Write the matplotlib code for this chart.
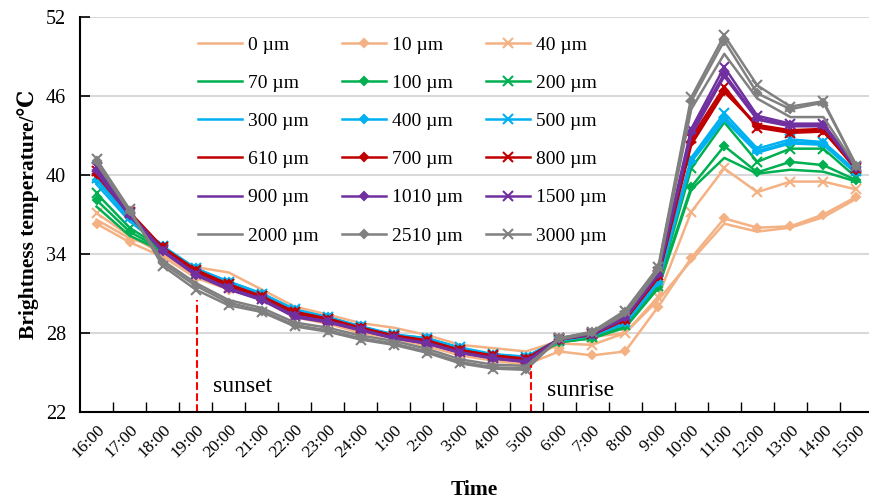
import numpy as np
import matplotlib
matplotlib.use('Agg')
import matplotlib.pyplot as plt

plt.rcParams['font.family'] = ['Liberation Serif', 'DejaVu Serif']

# Horas de medicion
horas = ['16:00', '17:00', '18:00', '19:00', '20:00', '21:00', '22:00', '23:00', '24:00',
         '1:00', '2:00', '3:00', '4:00', '5:00', '6:00', '7:00', '8:00', '9:00',
         '10:00', '11:00', '12:00', '13:00', '14:00', '15:00']

espesores = ['0 µm', '10 µm', '40 µm', '70 µm', '100 µm', '200 µm',
             '300 µm', '400 µm', '500 µm', '610 µm', '700 µm', '800 µm',
             '900 µm', '1010 µm', '1500 µm', '2000 µm', '2510 µm', '3000 µm']

# Temperatura de brillo (grados C)
t0 = [36.6, 35.2, 34.4, 33.0, 32.6, 31.3, 30.0, 29.4, 28.75, 28.4, 27.85, 27.1, 26.85, 26.6,
      27.4, 27.7, 28.0, 30.5, 33.5, 36.3, 35.7, 36.0, 36.8, 38.2]
t10 = [36.3, 34.9, 33.8, 32.2, 31.3, 30.6, 29.2, 28.7, 28.0, 27.6, 27.0, 26.3, 25.9, 25.6,
       26.6, 26.3, 26.6, 30.0, 33.7, 36.7, 36.0, 36.1, 37.0, 38.35]
t40 = [37.1, 35.4, 34.0, 32.4, 31.5, 30.8, 29.4, 28.9, 28.2, 27.8, 27.2, 26.5, 26.1, 25.8,
       27.2, 27.1, 28.0, 30.75, 37.2, 40.5, 38.7, 39.5, 39.5, 38.9]
t70 = [37.6, 35.4, 34.2, 32.6, 31.6, 30.7, 29.5, 29.0, 28.3, 27.8, 27.3, 26.6, 26.2, 25.9,
       27.3, 27.6, 28.4, 31.4, 38.9, 41.3, 40.1, 40.4, 40.25, 39.5]
t100 = [38.1, 35.7, 34.3, 32.6, 31.6, 30.7, 29.5, 29.0, 28.3, 27.8, 27.3, 26.6, 26.2, 25.9,
        27.3, 27.6, 28.5, 31.5, 39.1, 42.2, 40.2, 41.0, 40.75, 39.6]
t200 = [38.6, 36.0, 34.4, 32.7, 31.7, 30.8, 29.6, 29.1, 28.4, 27.85, 27.4, 26.7, 26.25, 26.0,
        27.4, 27.7, 28.6, 31.6, 40.5, 44.0, 41.0, 42.0, 42.0, 39.8]
t300 = [39.3, 36.5, 34.5, 32.8, 31.8, 30.9, 29.7, 29.1, 28.4, 27.8, 27.5, 26.8, 26.3, 26.1,
        27.4, 27.8, 28.7, 31.8, 41.0, 44.2, 41.7, 42.4, 42.3, 40.1]
t400 = [39.6, 36.7, 34.6, 32.9, 31.9, 31.0, 29.75, 29.2, 28.5, 27.85, 27.6, 26.85, 26.3, 26.2,
        27.5, 27.85, 28.8, 31.9, 41.1, 44.4, 41.8, 42.5, 42.4, 40.2]
t500 = [39.8, 36.8, 34.6, 32.9, 31.9, 31.0, 29.8, 29.2, 28.5, 27.9, 27.6, 26.9, 26.4, 26.2,
        27.5, 27.9, 28.8, 32.0, 41.3, 44.7, 42.0, 42.7, 42.5, 40.3]
t610 = [40.0, 37.0, 34.4, 32.6, 31.6, 30.6, 29.5, 29.0, 28.3, 27.75, 27.35, 26.6, 26.2, 25.95,
        27.5, 27.85, 29.0, 32.2, 42.3, 46.3, 43.8, 43.4, 43.5, 40.4]
t700 = [40.1, 37.1, 34.5, 32.7, 31.7, 30.7, 29.6, 29.0, 28.35, 27.8, 27.4, 26.7, 26.25, 26.0,
        27.5, 27.9, 29.0, 32.3, 42.5, 46.4, 43.7, 43.3, 43.4, 40.4]
t800 = [40.3, 37.2, 34.5, 32.8, 31.7, 30.8, 29.6, 29.1, 28.4, 27.8, 27.45, 26.7, 26.3, 26.05,
        27.55, 27.9, 29.1, 32.4, 42.8, 46.7, 43.6, 43.2, 43.3, 40.5]
t900 = [40.2, 36.9, 34.2, 32.4, 31.3, 30.5, 29.2, 28.8, 28.2, 27.6, 27.2, 26.5, 26.05, 25.8,
        27.5, 27.9, 29.1, 32.4, 43.0, 47.5, 44.2, 43.7, 43.7, 40.5]
t1010 = [40.4, 37.0, 34.2, 32.4, 31.4, 30.5, 29.3, 28.85, 28.2, 27.6, 27.2, 26.5, 26.1, 25.8,
         27.55, 27.95, 29.2, 32.5, 43.3, 47.7, 44.3, 43.8, 43.8, 40.5]
t1500 = [40.6, 37.1, 34.3, 32.5, 31.4, 30.6, 29.3, 28.9, 28.25, 27.65, 27.25, 26.55, 26.1, 25.85,
         27.6, 28.0, 29.3, 32.6, 43.5, 48.2, 44.5, 43.9, 43.9, 40.6]
t2000 = [40.9, 37.2, 33.5, 31.8, 30.5, 29.9, 28.8, 28.4, 27.8, 27.4, 26.8, 26.0, 25.6, 25.5,
         27.5, 28.0, 29.4, 32.7, 45.0, 49.2, 45.8, 44.4, 44.4, 40.6]
t2510 = [41.1, 37.3, 33.3, 31.6, 30.3, 29.7, 28.6, 28.2, 27.6, 27.2, 26.6, 25.8, 25.4, 25.3,
         27.6, 28.05, 29.6, 32.9, 45.6, 50.2, 46.2, 45.0, 45.5, 40.7]
t3000 = [41.2, 37.4, 33.1, 31.3, 30.1, 29.6, 28.5, 28.1, 27.5, 27.1, 26.5, 25.7, 25.3, 25.2,
         27.6, 28.1, 29.7, 33.0, 45.9, 50.6, 46.8, 45.2, 45.6, 40.7]

series = [t0, t10, t40, t70, t100, t200, t300, t400, t500,
          t610, t700, t800, t900, t1010, t1500, t2000, t2510, t3000]

colores = ['#F4B183', '#00B050', '#00B0F0', '#C00000', '#7030A0', '#808080']
marcadores = [None, 'D', 'x']

fig = plt.figure(figsize=(8.69, 4.99), dpi=100)
ax = fig.add_axes([80/869, 87/499, 789/869, 395/499])

x = np.arange(len(horas))
lineas = []
for i, (y, nombre) in enumerate(zip(series, espesores)):
    c = colores[i // 3]
    m = marcadores[i % 3]
    ms = 4.5 if m == 'D' else 7
    l, = ax.plot(x, y, color=c, marker=m, markersize=ms, markeredgewidth=1.5,
                 linewidth=1.8, label=nombre)
    lineas.append(l)

# lineas de atardecer y amanecer
ax.vlines(3.05, 22, 30.5, colors='#FF0000', linestyles='--', linewidth=1.5)
ax.vlines(13.15, 22, 25.6, colors='#FF0000', linestyles='--', linewidth=1.5)
ax.text(3.52, 23.92, 'sunset', fontsize=17, va='center')
ax.text(13.63, 23.67, 'sunrise', fontsize=17, va='center')

ax.set_xlim(-0.5, 23.38)
ax.set_ylim(22, 52)
ax.set_yticks([22, 28, 34, 40, 46, 52])
ax.set_xticks(x)
ax.set_xticklabels(horas, rotation=45, ha='right', rotation_mode='anchor', fontsize=12.5)
ax.set_xticks(np.arange(0.5, 23, 1), minor=True)
ax.tick_params(axis='x', which='major', length=0, pad=7)
ax.tick_params(axis='x', which='minor', direction='in', length=7, width=1)
ax.tick_params(axis='y', direction='in', length=7, width=1.2, labelsize=14.5, pad=10)
ax.grid(axis='y', color='#D9D9D9', linewidth=1.5)
ax.set_axisbelow(True)
for s in ['top', 'right']:
    ax.spines[s].set_visible(False)
for s in ['left', 'bottom']:
    ax.spines[s].set_linewidth(1.5)

ax.set_xlabel('Time', fontsize=15.5, fontweight='bold', labelpad=14)
ax.set_ylabel('Brightness temperature/℃', fontsize=15.5, fontweight='bold', labelpad=5)

# leyenda ordenada por filas
orden = lineas[0::3] + lineas[1::3] + lineas[2::3]
ax.legend(orden, [l.get_label() for l in orden], ncol=3, loc='upper left',
          bbox_to_anchor=(0.1496, 0.952), frameon=False, fontsize=14,
          handlelength=2.27, labelspacing=1.06, columnspacing=1.2, handletextpad=0.3,
          borderpad=0, borderaxespad=0)

fig.savefig('out.png', dpi=100)
